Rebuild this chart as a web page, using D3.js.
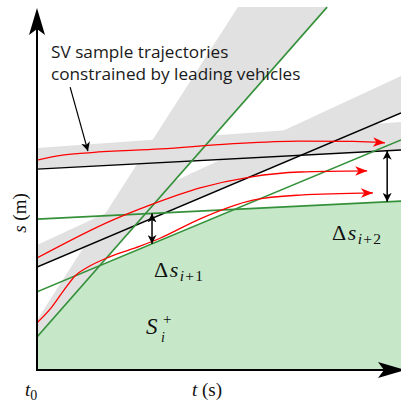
<!DOCTYPE html>
<html>
<head>
<meta charset="utf-8">
<script src="https://cdn.jsdelivr.net/npm/d3@7"></script>
<style>
  body { margin: 0; background: #fff; }
  svg { display: block; }
</style>
</head>
<body>
<div id="chart"></div>
<script>
// schematic units: t (time) 0..100, s (position) 0..100

// leading vehicle boundaries (green) and vehicle trajectories (black), [t, s]
const leadA = [[0, 9.2], [79.7, 100.8]];
const leadB = [[0, 21.7], [100, 63.9]];
const leadC = [[0, 41.9], [100, 46.9]];
const vehK1 = [[0, 55.8], [100, 61.1]];
const vehK2 = [[0, 28.6], [100, 71.4]];

// upper edges of the grey uncertainty bands
const bandK1Top = [[0, 61.7], [100, 68.9]];
const bandK2Top = [[0, 34.7], [100, 81.7]];
const coneAEdge = [[0, 13.9], [55.2, 100.8]];

// SV sample trajectories (red)
const sampleHigh = [[0, 58.3], [7, 59.7], [15, 60.4], [34, 61.4], [53, 62.8], [72, 63.6], [87, 63.5], [95.6, 63.1]];
const sampleMid = [[0, 31.1], [20.9, 41.7], [31, 45.8], [44.8, 50.6], [58.5, 53.6], [72.3, 55.0], [90.7, 55.3]];
const sampleLow = [[0, 13.1], [4, 17.4], [7.5, 22.3], [10.5, 26.2], [14, 28.6], [20.1, 31.5],
                   [28.3, 34.4], [33.8, 36.6], [44.8, 42], [59.3, 47.2], [72.3, 48.6], [92.3, 49.2]];

// gap arrows: time where the gap is measured
const gapTimes = [31.6, 96.2];
const gapLabels = ["i+1", "i+2"];

// annotation pointer from the text to the top sample
const notePointer = [[9.1, 78.6], [14.0, 60.8]];
const noteLines = ["SV sample trajectories", "constrained by leading vehicles"];

const W = 401, H = 403;
const x = d3.scaleLinear().domain([0, 100]).range([37, 401]);
const y = d3.scaleLinear().domain([0, 100]).range([370, 10]);

const svg = d3.select("#chart").append("svg")
  .attr("width", W).attr("height", H);

const defs = svg.append("defs");
defs.append("clipPath").attr("id", "plot")
  .append("rect")
  .attr("x", x(0)).attr("y", 0)
  .attr("width", W - x(0)).attr("height", y(0));

function head(id, color, len, half) {
  defs.append("marker")
    .attr("id", id)
    .attr("viewBox", `${-len} ${-half} ${len} ${half * 2}`)
    .attr("refX", 0).attr("refY", 0)
    .attr("markerWidth", len).attr("markerHeight", half * 2)
    .attr("markerUnits", "userSpaceOnUse")
    .attr("orient", "auto-start-reverse")
    .append("path")
    .attr("d", `M0,0 L${-len},${-half} L${-len * 0.72},0 L${-len},${half} Z`)
    .attr("fill", color);
}
head("redHead", "#ff0000", 12, 4.8);
head("blkHead", "#000", 9, 4.5);

const at = (ln, t) => ln[0][1] + (ln[1][1] - ln[0][1]) * (t - ln[0][0]) / (ln[1][0] - ln[0][0]);
const line = d3.line().x(d => x(d[0])).y(d => y(d[1]));
const curve = d3.line().x(d => x(d[0])).y(d => y(d[1])).curve(d3.curveMonotoneX);

const plot = svg.append("g").attr("clip-path", "url(#plot)");

// lower envelope of the leading vehicles -> safe region S_i^+
const leads = [leadA, leadB, leadC];
let cuts = [0, 100];
for (let i = 0; i < leads.length; i++) {
  for (let j = i + 1; j < leads.length; j++) {
    const a = leads[i], b = leads[j];
    const ka = (a[1][1] - a[0][1]) / (a[1][0] - a[0][0]);
    const kb = (b[1][1] - b[0][1]) / (b[1][0] - b[0][0]);
    const t = (at(b, 0) - at(a, 0)) / (ka - kb);
    if (t > 0 && t < 100) cuts.push(t);
  }
}
cuts.sort((p, q) => p - q);
const envelope = cuts.map(t => [t, d3.min(leads, l => at(l, t))]);
plot.append("path")
  .attr("d", line([[0, 0], ...envelope, [100, 0]]) + "Z")
  .attr("fill", "#c6e8c9");

// grey bands
const grey = "#e1e1e1";
plot.append("path").attr("d", line([...vehK1, ...bandK1Top.slice().reverse()]) + "Z").attr("fill", grey);
plot.append("path").attr("d", line([...vehK2, ...bandK2Top.slice().reverse()]) + "Z").attr("fill", grey);
plot.append("path").attr("d", line([...coneAEdge, leadA[1], leadA[0]]) + "Z").attr("fill", grey);

// black trajectories
[vehK1, vehK2].forEach(l => plot.append("path").attr("d", line(l))
  .attr("fill", "none").attr("stroke", "#000").attr("stroke-width", 1.4));

// green boundaries
[leadA, leadB, leadC].forEach(l => plot.append("path").attr("d", line(l))
  .attr("fill", "none").attr("stroke", "#34913a").attr("stroke-width", 1.6));

// red samples
[sampleHigh, sampleMid, sampleLow].forEach(l => plot.append("path").attr("d", curve(l))
  .attr("fill", "none").attr("stroke", "#ff0000").attr("stroke-width", 1.3)
  .attr("marker-end", "url(#redHead)"));

// gap arrows
const gapPairs = [[leadB, leadC], [leadC, vehK1]];
gapTimes.forEach((t, i) => {
  svg.append("line")
    .attr("x1", x(t)).attr("x2", x(t))
    .attr("y1", y(at(gapPairs[i][0], t))).attr("y2", y(at(gapPairs[i][1], t)))
    .attr("stroke", "#000").attr("stroke-width", 1.5)
    .attr("marker-start", "url(#blkHead)").attr("marker-end", "url(#blkHead)");
});

// annotation
svg.append("path").attr("d", line(notePointer))
  .attr("fill", "none").attr("stroke", "#000").attr("stroke-width", 1.2)
  .attr("marker-end", "url(#blkHead)");
svg.selectAll("text.note").data(noteLines).join("text")
  .attr("class", "note")
  .attr("x", 51).attr("y", (d, i) => 58 + i * 22)
  .attr("font-family", "'Open Sans', sans-serif").attr("font-size", 17.2)
  .attr("fill", "#1a1a1a")
  .text(d => d);

// axes
const axisW = 2;
svg.append("line").attr("x1", x(0)).attr("x2", x(0)).attr("y1", y(0) + 1).attr("y2", y(100) + 12)
  .attr("stroke", "#000").attr("stroke-width", axisW);
svg.append("line").attr("x1", x(0) - 1).attr("x2", W - 10).attr("y1", y(0)).attr("y2", y(0))
  .attr("stroke", "#000").attr("stroke-width", axisW);
const big = "M0,0 L-27,-8 L-21,0 L-27,8 Z";
svg.append("path").attr("d", big).attr("fill", "#000")
  .attr("transform", `translate(${x(0)},${y(100) - 2}) rotate(-90)`);
svg.append("path").attr("d", big).attr("fill", "#000")
  .attr("transform", `translate(${W + 4},${y(0)})`);

// math labels
const serif = "'Liberation Serif', 'DejaVu Serif', serif";
function mathText(px, py, txt, size, italic, anchor) {
  return svg.append("text").attr("x", px).attr("y", py)
    .attr("font-family", serif).attr("font-size", size).attr("fill", "#111")
    .attr("font-style", italic ? "italic" : "normal")
    .attr("text-anchor", anchor || "start")
    .text(txt);
}

const gapPos = [[154, 277], [332, 240]];
gapLabels.forEach((g, i) => {
  const [px, py] = gapPos[i];
  const t = svg.append("text").attr("x", px).attr("y", py)
    .attr("font-family", serif).attr("font-size", 22).attr("fill", "#111");
  t.append("tspan").text("Δ");
  t.append("tspan").attr("font-style", "italic").attr("dx", 1.5).text("s");
  const sub = t.append("tspan").attr("font-size", 15.5).attr("letter-spacing", 1.2).attr("dy", 4).attr("dx", 1.5);
  sub.append("tspan").attr("font-style", "italic").text("i");
  sub.append("tspan").text("+" + g.split("+")[1]);
});

mathText(146, 334, "S", 23, true);
mathText(163, 324, "+", 15, false);
mathText(161, 342, "i", 14, true);

const t0 = mathText(25, 396, "t", 19, true);
t0.append("tspan").attr("font-style", "normal").attr("font-size", 14).attr("dy", 4).text("0");
const tl = mathText(207, 396, "", 19, false, "middle");
tl.append("tspan").attr("font-style", "italic").text("t");
tl.append("tspan").text(" (s)");
const sl = mathText(0, 0, "", 19, false, "middle").attr("transform", "translate(26,213) rotate(-90)");
sl.append("tspan").attr("font-style", "italic").text("s");
sl.append("tspan").text(" (m)");
</script>
</body>
</html>
